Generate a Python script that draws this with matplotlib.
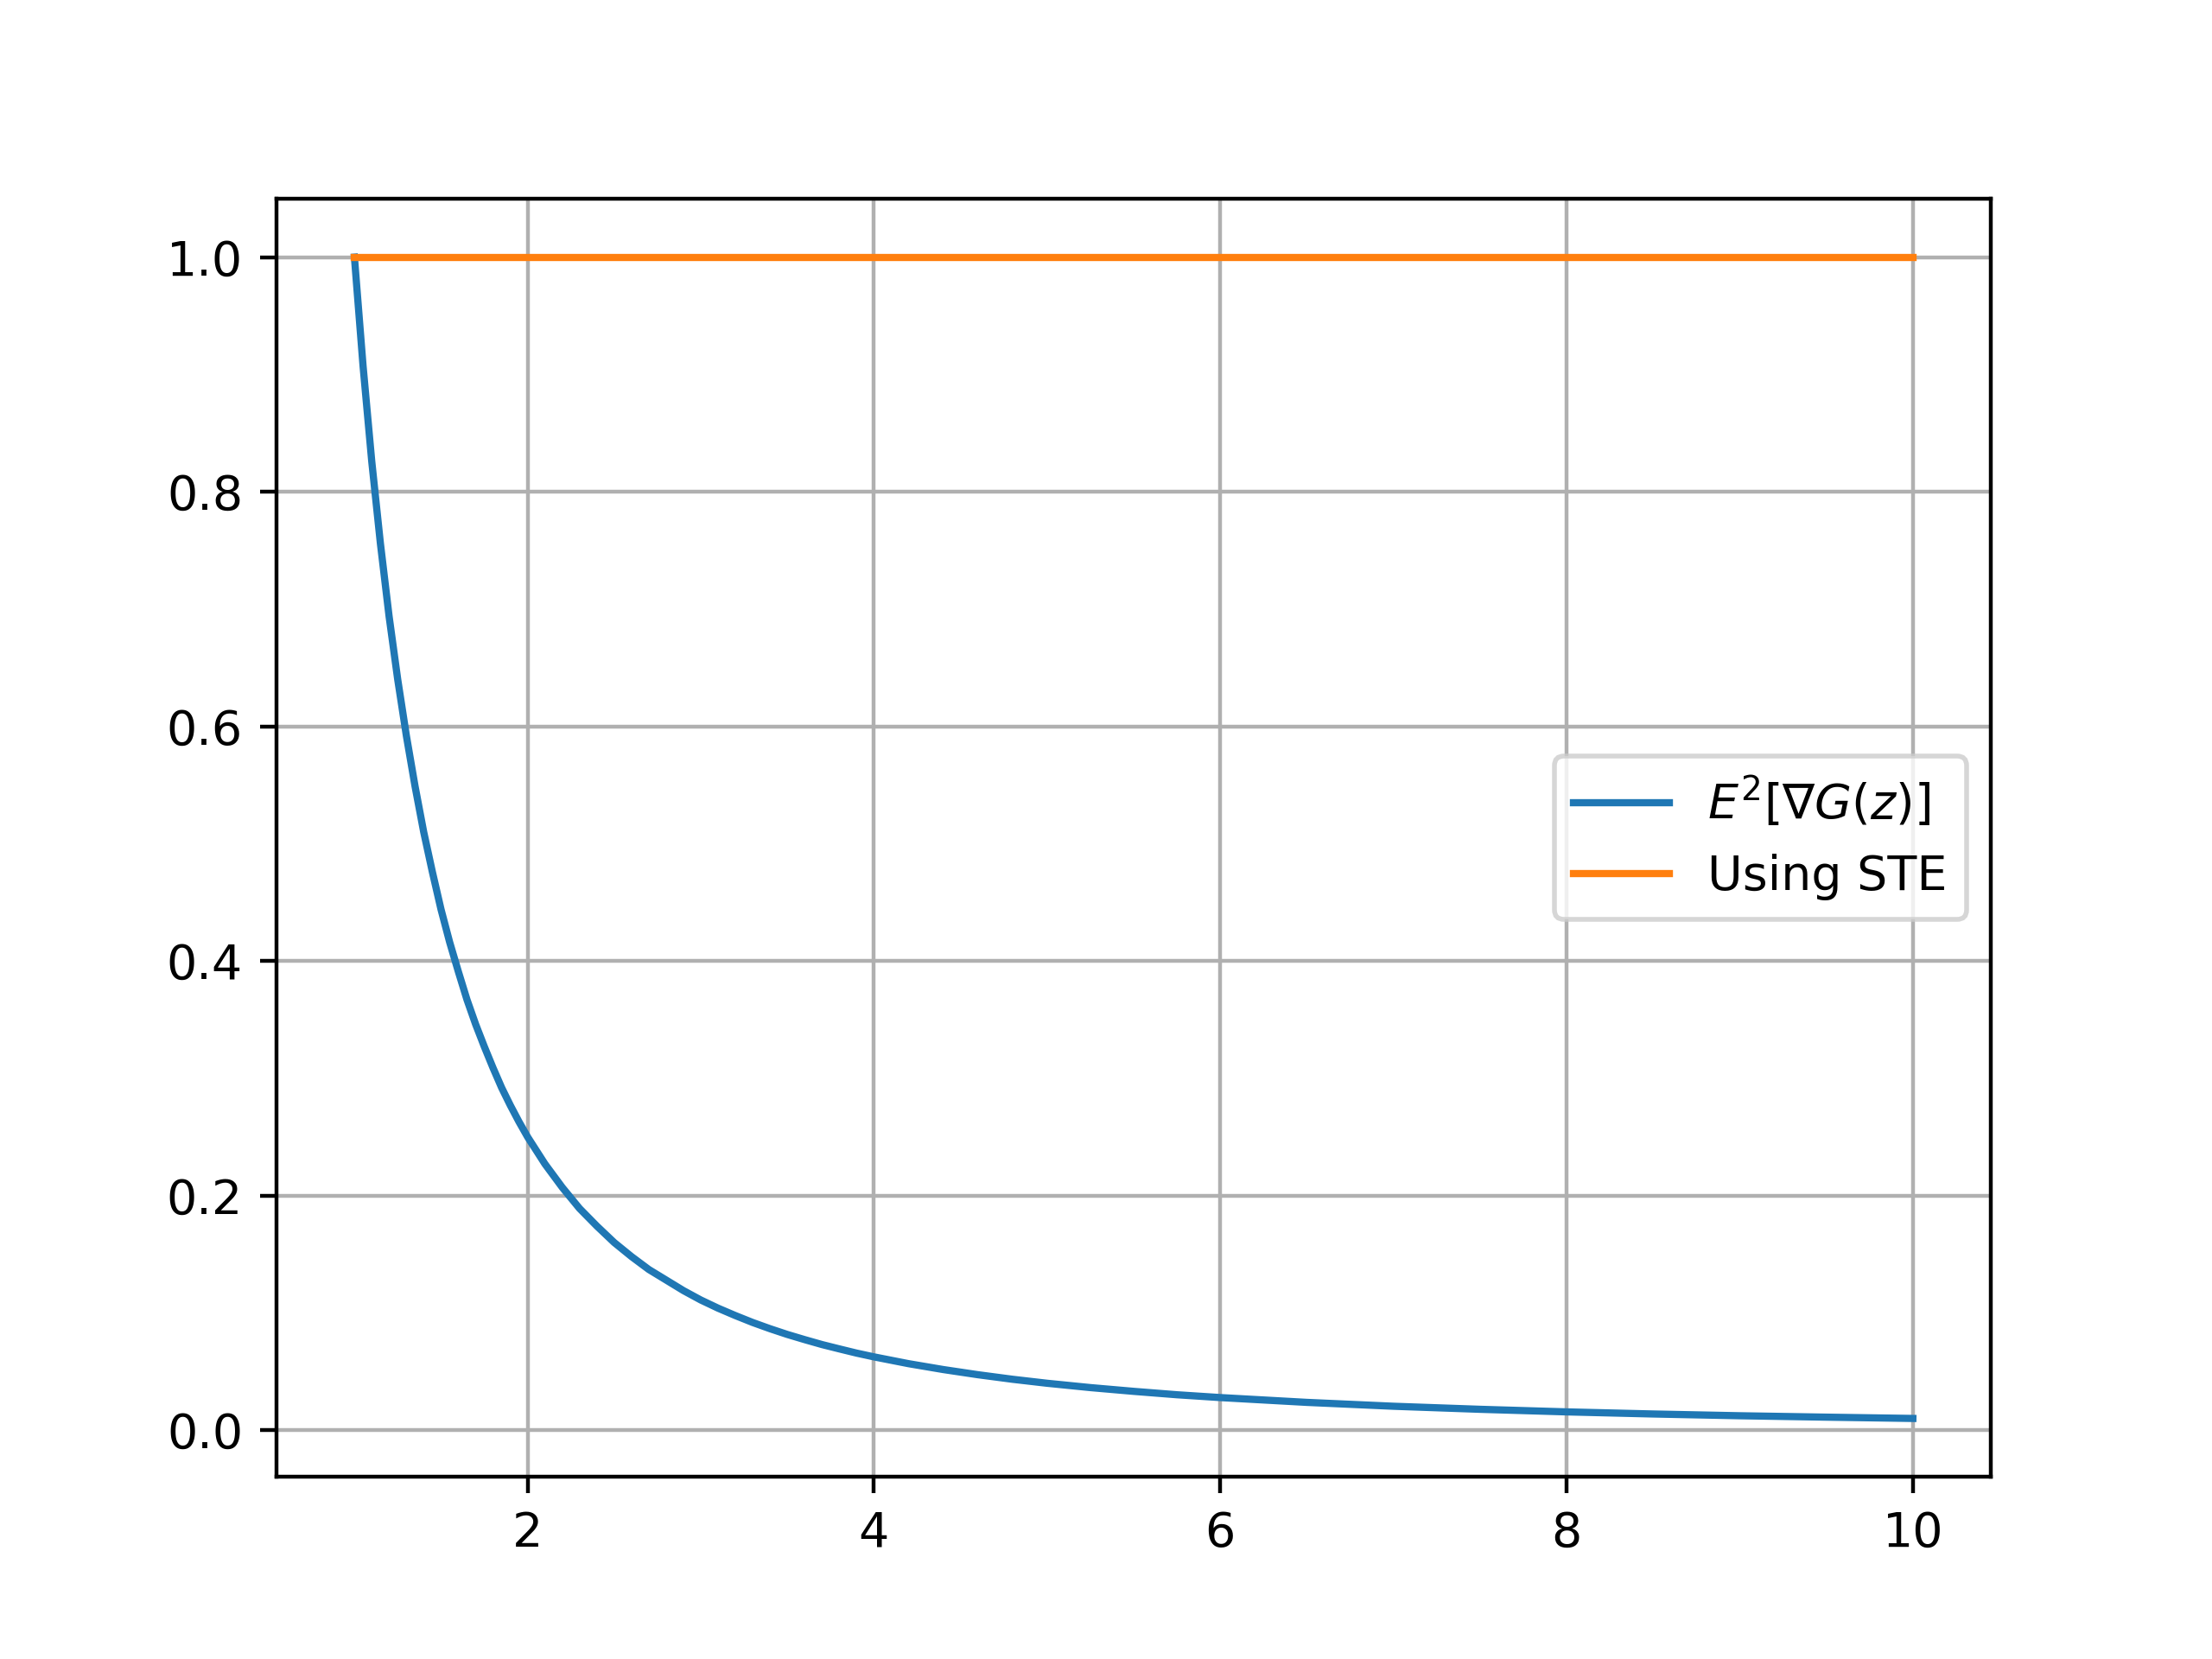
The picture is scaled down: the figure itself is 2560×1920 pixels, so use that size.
import matplotlib
matplotlib.use("Agg")
import matplotlib.pyplot as plt

x_vals = [1.0, 1.05, 1.1, 1.15, 1.2, 1.25, 1.3, 1.35, 1.4, 1.45, 1.5, 1.55, 1.6, 1.65,
          1.7, 1.75, 1.8, 1.85, 1.9, 1.95, 2.0, 2.1, 2.2, 2.3, 2.4, 2.5, 2.6, 2.7,
          2.8, 2.9, 3.0, 3.1, 3.2, 3.3, 3.4, 3.5, 3.6, 3.7, 3.8, 3.9, 4.0, 4.2,
          4.4, 4.6, 4.8, 5.0, 5.25, 5.5, 5.75, 6.0, 6.5, 7.0, 7.5, 8.0, 8.5, 9.0,
          9.5, 10.0]
grad_vals = [1.0, 0.907, 0.826, 0.756, 0.694, 0.640, 0.592, 0.549, 0.510, 0.476, 0.444,
             0.416, 0.391, 0.367, 0.346, 0.327, 0.309, 0.292, 0.277, 0.263, 0.250,
             0.227, 0.207, 0.189, 0.174, 0.160, 0.148, 0.137, 0.128, 0.119, 0.111,
             0.104, 0.0977, 0.0918, 0.0865, 0.0816, 0.0772, 0.0730, 0.0693, 0.0657,
             0.0625, 0.0567, 0.0517, 0.0473, 0.0434, 0.040, 0.0363, 0.0331, 0.0302,
             0.0278, 0.0237, 0.0204, 0.0178, 0.0156, 0.0138, 0.0123, 0.0111, 0.010]
ste_x = [1.0, 10.0]
ste_vals = [1.0, 1.0]

labels = [r"$E^2[\nabla G(z)]$", "Using STE"]

fig, ax = plt.subplots(figsize=(6.4, 4.8), dpi=400)
ax.plot(x_vals, grad_vals, label=labels[0])
ax.plot(ste_x, ste_vals, label=labels[1])
ax.grid(True)
ax.legend(loc="center right")
fig.savefig("out.png", dpi=400)
